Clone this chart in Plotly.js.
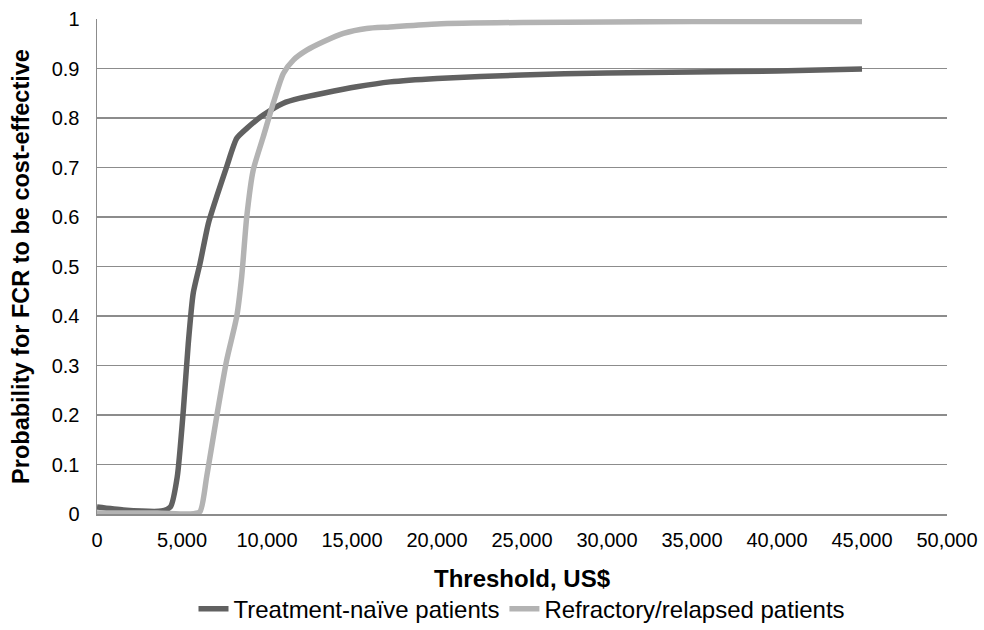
<!DOCTYPE html>
<html>
<head>
<meta charset="utf-8">
<script src="https://cdn.plot.ly/plotly-3.0.1.min.js"></script>
<style>html,body{margin:0;padding:0;background:#fff;}#chart{width:984px;height:630px;}</style>
</head>
<body>
<div id="chart"></div>
<script>
const naiveX = [0, 1560, 3800, 4330, 4720, 5080, 5370, 5660, 6060, 6550, 7040, 7630, 8220, 8810, 9780, 10960, 11940, 13310, 15280, 17240, 20000, 25000, 30000, 35000, 40000, 45000];
const naiveY = [0.014, 0.008, 0.006, 0.015, 0.075, 0.21, 0.345, 0.446, 0.506, 0.587, 0.641, 0.702, 0.759, 0.779, 0.806, 0.830, 0.840, 0.850, 0.863, 0.873, 0.880, 0.887, 0.891, 0.893, 0.895, 0.899];
const refrX = [0, 3540, 5470, 6060, 6450, 7040, 7630, 8220, 8510, 8810, 9190, 9780, 10370, 10960, 11550, 12340, 13310, 14490, 15860, 17240, 20000, 25000, 30000, 35000, 40000, 45000];
const refrY = [0.002, 0.002, 0.0, 0.005, 0.075, 0.197, 0.311, 0.399, 0.479, 0.601, 0.695, 0.762, 0.830, 0.890, 0.917, 0.937, 0.954, 0.971, 0.981, 0.984, 0.990, 0.993, 0.994, 0.995, 0.995, 0.995];
const seriesNames = ['Treatment-naïve patients', 'Refractory/relapsed patients'];
const xTicks = [0, 5000, 10000, 15000, 20000, 25000, 30000, 35000, 40000, 45000, 50000];
const yTicks = [0, 0.1, 0.2, 0.3, 0.4, 0.5, 0.6, 0.7, 0.8, 0.9, 1];

const font = '"Liberation Sans", Arial, sans-serif';
const traces = [
  {x: naiveX, y: naiveY, name: seriesNames[0], mode: 'lines', line: {color: '#616161', width: 5.5, shape: 'spline', smoothing: 0.6}},
  {x: refrX, y: refrY, name: seriesNames[1], mode: 'lines', line: {color: '#b3b3b3', width: 5.5, shape: 'spline', smoothing: 0.6}}
];
const layout = {
  width: 984, height: 630,
  margin: {l: 97, r: 37, t: 19, b: 116, autoexpand: false},
  paper_bgcolor: '#fff', plot_bgcolor: '#fff',
  font: {family: font, color: '#000', size: 20},
  showlegend: true,
  legend: {orientation: 'h', x: 0.5, xanchor: 'center', y: -0.192, yanchor: 'middle', font: {size: 24, family: font}, tracegroupgap: 0},
  xaxis: {
    range: [0, 50000], tickvals: xTicks, ticktext: xTicks.map(v => v.toLocaleString('en-US')),
    showgrid: false, zeroline: false, showline: true, linecolor: '#8c8c8c', linewidth: 1.5,
    ticks: '', tickfont: {size: 20}, ticklabelstandoff: 7,
    title: {text: '<b>Threshold, US$</b>', font: {size: 24}, standoff: 20}
  },
  yaxis: {
    range: [0, 1], tickvals: yTicks, ticktext: yTicks.map(v => String(v)),
    showgrid: true, gridcolor: '#8c8c8c', gridwidth: 1.5, zeroline: false,
    showline: true, linecolor: '#8c8c8c', linewidth: 1.5,
    ticks: '', tickfont: {size: 20}, ticklabelstandoff: 12,
    title: {text: '<b>Probability for FCR to be cost-effective</b>', font: {size: 23.5}, standoff: 15}
  }
};
Plotly.newPlot('chart', traces, layout, {staticPlot: true, displayModeBar: false});
</script>
</body>
</html>
